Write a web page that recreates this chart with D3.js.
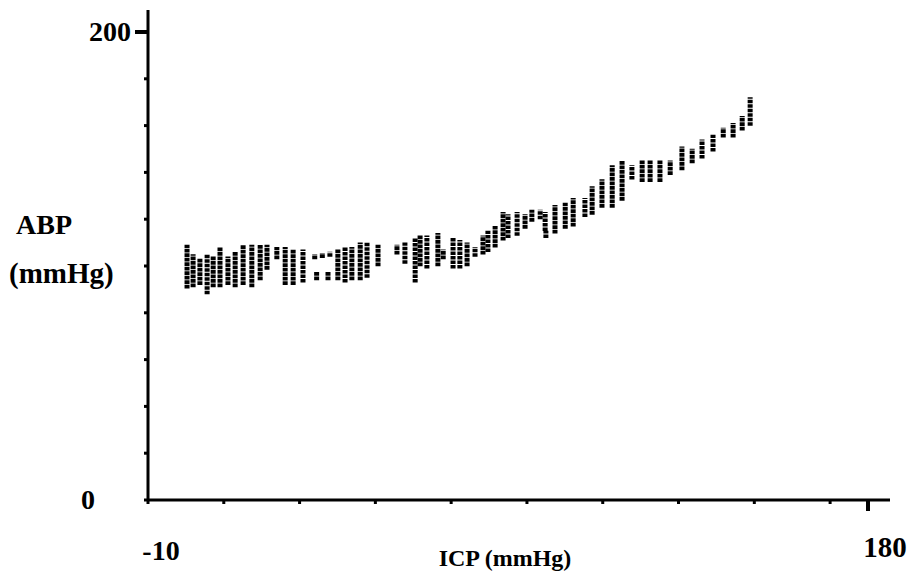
<!DOCTYPE html>
<html>
<head>
<meta charset="utf-8">
<script src="https://cdn.jsdelivr.net/npm/d3@7"></script>
<style>
  body { margin: 0; background: #fff; }
  text { font-family: "Liberation Serif", "Times New Roman", serif; font-weight: bold; fill: #000; }
</style>
</head>
<body>
<div id="chart"></div>
<script>
// ICP (mmHg) of each column of samples
var icp = [0.3, 1.9, 3.7, 5.6, 7.2, 9.0, 11.1, 13.0, 15.1, 17.4, 19.6, 21.4, 24.0, 26.2, 28.3, 30.9,
  34.0, 36.0, 38.0, 34.5, 37.5, 40.1, 42.0, 43.8, 46.0, 47.8, 50.7, 55.7, 57.8, 60.5, 61.8, 63.6,
  66.5, 67.9, 70.5, 72.3, 74.2, 76.3, 78.4, 79.7, 81.6, 83.7, 85.0, 87.4, 89.5, 91.3, 93.5, 94.8,
  95.0, 97.4, 100.1, 102.2, 105.3, 107.2, 109.8, 112.5, 115.1, 117.7, 120.4, 122.5, 125.1, 127.8,
  130.9, 133.6, 136.2, 139.1, 141.8, 144.4, 146.8, 148.9];
// lowest ABP (mmHg) in each column
var abpLow = [91.5, 92, 93, 89, 92, 92, 93, 92, 93, 92, 95, 99.5, 104, 93, 93, 94,
  104, 104.5, 105, 95, 95, 95, 94, 95, 95, 96, 101, 106, 102, 94, 101, 100,
  101, 104, 100, 100, 101, 105, 106, 107, 109, 112, 113, 114, 117, 120, 121, 116,
  113, 115, 117, 118, 122, 123, 126, 126, 129, 138, 137, 137, 137, 140,
  142, 145, 147, 150, 156, 156, 159, 161];
// highest ABP (mmHg) in each column
var abpHigh = [108, 104, 102, 104, 103, 107, 103, 105, 108, 108, 108, 108, 107, 107, 106, 106,
  104, 104.5, 105, 96.5, 96.5, 106, 107, 107, 109, 109, 108, 108, 109, 111, 112, 112,
  113, 106, 111, 110, 109, 107, 112, 114, 116, 122, 121, 122, 121, 123, 123, 122,
  114, 125, 126, 128, 128, 133, 136, 142, 144, 142, 144, 144, 144, 144,
  150, 149, 153, 155, 158, 160, 163, 171];

var yMinorTicks = [0, 20, 40, 60, 80, 100, 120, 140, 160, 180];
var xMinorTicks = [-10, 10, 30, 50, 70, 90, 110, 130, 150, 170];

var svg = d3.select("#chart")
    .append("svg")
    .attr("width", 918)
    .attr("height", 575);

var xScale = d3.scaleLinear().domain([-10, 180]).range([148, 868]),
    yScale = d3.scaleLinear().domain([0, 200]).range([500, 32]);

var data = icp.map(function(d, i) {
    return { icp: d, lo: abpLow[i], hi: abpHigh[i] };
});

// columns of dots
svg.selectAll(".col")
    .data(data)
    .enter().append("line")
    .attr("class", "col")
    .attr("x1", function(d) { return xScale(d.icp); })
    .attr("x2", function(d) { return xScale(d.icp); })
    .attr("y1", function(d) { return yScale(d.lo) + 2.5; })
    .attr("y2", function(d) { return yScale(d.hi) - 2.5; })
    .attr("stroke", "#000")
    .attr("stroke-width", 5)
    .style("stroke-dasharray", "3.6,0.9");

// y axis
svg.append("line")
    .attr("x1", xScale(-10)).attr("x2", xScale(-10))
    .attr("y1", yScale(0) + 1).attr("y2", 10)
    .attr("stroke", "#000").attr("stroke-width", 3);
svg.append("line")
    .attr("x1", xScale(-10) - 13).attr("x2", xScale(-10))
    .attr("y1", yScale(200)).attr("y2", yScale(200))
    .attr("stroke", "#000").attr("stroke-width", 4);
svg.selectAll(".ytick")
    .data(yMinorTicks)
    .enter().append("line")
    .attr("class", "ytick")
    .attr("x1", xScale(-10) - 4).attr("x2", xScale(-10))
    .attr("y1", function(d) { return yScale(d); })
    .attr("y2", function(d) { return yScale(d); })
    .attr("stroke", "#000").attr("stroke-width", 3);

// x axis
svg.append("line")
    .attr("x1", xScale(-10) - 1).attr("x2", 890)
    .attr("y1", yScale(0)).attr("y2", yScale(0))
    .attr("stroke", "#000").attr("stroke-width", 3);
svg.append("line")
    .attr("x1", xScale(180)).attr("x2", xScale(180))
    .attr("y1", yScale(0)).attr("y2", yScale(0) + 11)
    .attr("stroke", "#000").attr("stroke-width", 4);
svg.selectAll(".xtick")
    .data(xMinorTicks)
    .enter().append("line")
    .attr("class", "xtick")
    .attr("x1", function(d) { return xScale(d); })
    .attr("x2", function(d) { return xScale(d); })
    .attr("y1", yScale(0)).attr("y2", yScale(0) + 4)
    .attr("stroke", "#000").attr("stroke-width", 3);

// tick labels
svg.append("text")
    .attr("x", 131).attr("y", yScale(200) + 9)
    .style("text-anchor", "end").style("font-size", "28px")
    .text("200");
svg.append("text")
    .attr("x", 88).attr("y", yScale(0) + 9)
    .style("text-anchor", "middle").style("font-size", "28px")
    .text("0");
svg.append("text")
    .attr("x", xScale(-10) + 13).attr("y", 560)
    .style("text-anchor", "middle").style("font-size", "28px")
    .text("-10");
svg.append("text")
    .attr("x", xScale(180) + 17).attr("y", 557)
    .style("text-anchor", "middle").style("font-size", "29px")
    .text("180");

// axis titles
svg.append("text")
    .attr("x", 505).attr("y", 566)
    .style("text-anchor", "middle").style("font-size", "24px")
    .text("ICP (mmHg)");
svg.append("text")
    .attr("x", 16).attr("y", 234)
    .style("font-size", "28px")
    .text("ABP");
svg.append("text")
    .attr("x", 9).attr("y", 283)
    .style("font-size", "29px")
    .text("(mmHg)");
</script>
</body>
</html>
